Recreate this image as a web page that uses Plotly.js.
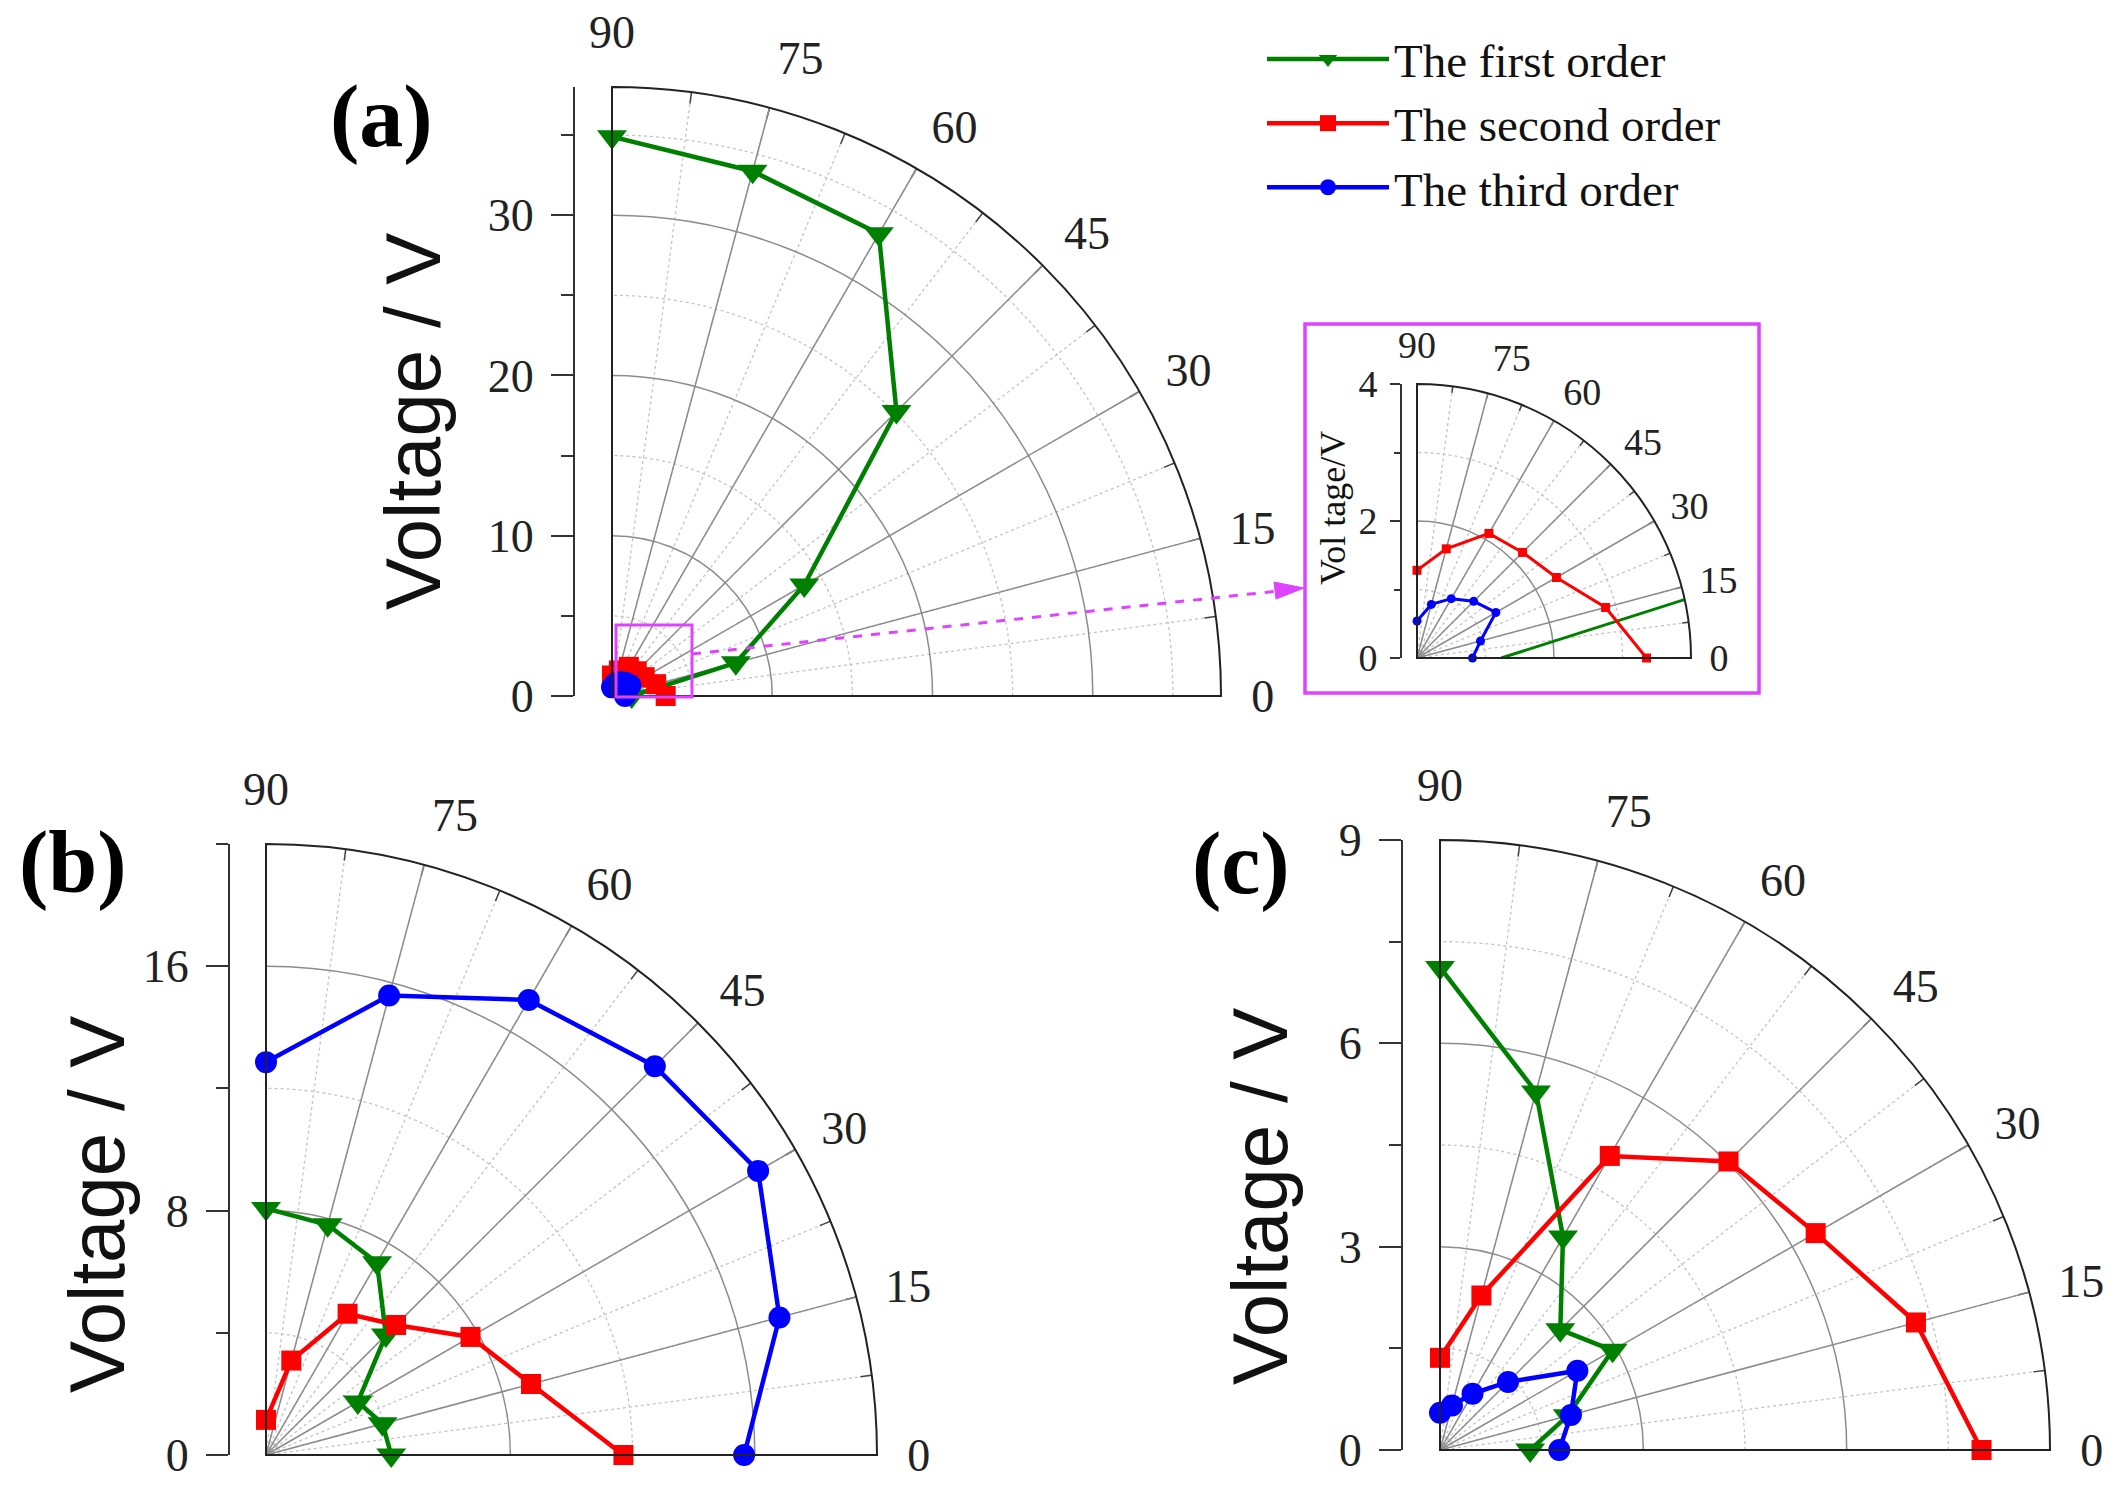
<!DOCTYPE html>
<html><head><meta charset="utf-8">
<script src="https://cdn.plot.ly/plotly-3.0.1.min.js"></script>
<style>html,body{margin:0;padding:0;background:#fff}#chart{width:2120px;height:1485px}</style>
</head><body><div id="chart"></div>
<script>
// ---------- data ----------
const angles = [90, 75, 60, 45, 30, 15, 0];
const seriesNames = ['The first order', 'The second order', 'The third order'];

// panel (a) (also shown in the inset)
const aFirst  = [34.9, 33.9, 33.3, 25.1, 13.85, 8.0, 1.23];
const aSecond = [1.28, 1.65, 2.10, 2.18, 2.35, 2.85, 3.35];
const aThird  = [0.54, 0.81, 1.00, 1.17, 1.33, 0.96, 0.81];
// panel (b)
const bFirst  = [8.07, 7.8, 7.27, 5.55, 3.47, 3.95, 4.1];
const bSecond = [1.15, 3.2, 5.34, 6.02, 7.73, 8.98, 11.7];
const bThird  = [12.86, 15.57, 17.2, 18.0, 18.6, 17.4, 15.65];
// panel (c)
const cFirst  = [7.12, 5.47, 3.63, 2.51, 2.94, 1.95, 1.33];
const cSecond = [1.36, 2.36, 5.01, 6.02, 6.4, 7.27, 7.99];
const cThird  = [0.55, 0.68, 0.96, 1.42, 2.34, 2.0, 1.76];

// tick values
const majorAngles = [0, 15, 30, 45, 60, 75, 90];
const allAngles = [0, 7.5, 15, 22.5, 30, 37.5, 45, 52.5, 60, 67.5, 75, 82.5, 90];
const aMajorR = [0, 10, 20, 30], aMinorR = [5, 15, 25, 35], aMax = 38;
const bMajorR = [0, 8, 16],      bMinorR = [4, 12, 20],      bMax = 20;
const cMajorR = [0, 3, 6, 9],    cMinorR = [1.5, 4.5, 7.5],  cMax = 9;
const iMajorR = [0, 2, 4],       iMinorR = [1, 3],           iMax = 4;

// ---------- layout helpers ----------
const W = 2120, H = 1485;
const px = x => x / W;
const py = y => 1 - y / H;
const COLORS = ['#008000', '#ff0000', '#0000ff'];
const SYMBOLS = ['triangle-down', 'square', 'circle'];
const SERIF = 'Liberation Serif, Times New Roman, serif';
const SANS = 'Liberation Sans, Arial, sans-serif';

const panels = [
  {key: 'a', pole: [612, 696], R: 609, axisX: 575, rmax: aMax, major: aMajorR, minor: aMinorR,
   data: [aFirst, aSecond, aThird], inset: false, msize: [26, 20, 22], lw: 4.5, font: 46, lpad: 20},
  {key: 'b', pole: [266, 1455], R: 611, axisX: 230, rmax: bMax, major: bMajorR, minor: bMinorR,
   data: [bFirst, bSecond, bThird], inset: false, msize: [26, 20, 22], lw: 4.5, font: 46, lpad: 20},
  {key: 'c', pole: [1440, 1450], R: 610, axisX: 1403, rmax: cMax, major: cMajorR, minor: cMinorR,
   data: [cFirst, cSecond, cThird], inset: false, msize: [26, 20, 22], lw: 4.5, font: 46, lpad: 20},
  {key: 'i', pole: [1417, 658], R: 274, axisX: 1402, rmax: iMax, major: iMajorR, minor: iMinorR,
   data: [aFirst, aSecond, aThird], inset: true, msize: [0, 9, 9], lw: 3, font: 38, lpad: 10}
];

const layout = {
  width: W, height: H,
  margin: {l: 0, r: 0, t: 0, b: 0},
  paper_bgcolor: '#ffffff',
  plot_bgcolor: 'rgba(0,0,0,0)',
  showlegend: true,
  legend: {
    x: px(1262), y: py(22), xanchor: 'left', yanchor: 'top',
    font: {family: SERIF, size: 47, color: '#111'},
    itemwidth: 122, bgcolor: 'rgba(0,0,0,0)', tracegroupgap: 0
  },
  annotations: [],
  shapes: []
};
const traces = [];

panels.forEach((p, k) => {
  const dom = {
    x: [px(p.pole[0]), px(p.pole[0] + p.R)],
    y: [py(p.pole[1]), py(p.pole[1] - p.R)]
  };
  const lo = 'polar' + (k === 0 ? '' : (2 * k + 1));
  const hi = 'polar' + (2 * k + 2);
  // lower layer: dotted minor grid + inner ticks
  layout[lo] = {
    domain: dom, sector: [0, 90], bgcolor: 'rgba(0,0,0,0)',
    radialaxis: {range: [0, p.rmax], tickmode: 'array', tickvals: p.minor, showticklabels: false,
      ticks: '', showline: false, gridcolor: '#c4c4c4', gridwidth: 1.3, griddash: 'dot'},
    angularaxis: {rotation: 0, direction: 'counterclockwise', thetaunit: 'degrees',
      tickmode: 'array', tickvals: allAngles, showticklabels: false,
      ticks: 'inside', ticklen: p.inset ? 6 : 11, tickcolor: '#444', tickwidth: 1.5,
      showline: false, gridcolor: '#c4c4c4', gridwidth: 1.3, griddash: 'dot'}
  };
  traces.push({type: 'scatterpolar', subplot: lo, r: [], theta: [], showlegend: false, hoverinfo: 'skip'});
  // upper layer: solid major grid, outer arc and labels
  layout[hi] = {
    domain: dom, sector: [0, 90], bgcolor: 'rgba(0,0,0,0)',
    radialaxis: {range: [0, p.rmax], tickmode: 'array', tickvals: p.major, showticklabels: false,
      ticks: '', showline: false, gridcolor: '#8c8c8c', gridwidth: 1.5},
    angularaxis: {rotation: 0, direction: 'counterclockwise', thetaunit: 'degrees',
      tickmode: 'array', tickvals: majorAngles, ticktext: majorAngles.map(String),
      ticks: 'outside', ticklen: p.lpad, tickcolor: 'rgba(0,0,0,0)', tickwidth: 1,
      showline: true, linecolor: '#222', linewidth: 2,
      gridcolor: '#8c8c8c', gridwidth: 1.5,
      tickfont: {family: SERIF, size: p.font, color: '#222'}}
  };

  // series
  p.data.forEach((vals, s) => {
    traces.push({
      type: 'scatterpolar', subplot: hi,
      r: vals, theta: angles,
      name: seriesNames[s],
      legendgroup: seriesNames[s],
      showlegend: k === 0,
      mode: p.msize[s] > 0 ? 'lines+markers' : 'lines',
      line: {color: COLORS[s], width: p.lw},
      marker: {symbol: SYMBOLS[s], size: p.msize[s] || 1, color: COLORS[s]},
      hoverinfo: 'skip'
    });
  });

  // cartesian radial axis drawn to the left of the pole
  const ax = k === 0 ? '' : String(k + 1);
  layout['xaxis' + ax] = {domain: [px(p.axisX), px(p.axisX) + 0.004], visible: false, range: [0, 1], fixedrange: true};
  layout['yaxis' + ax] = {
    domain: dom.y, anchor: 'x' + ax, side: 'left', range: [0, p.rmax],
    tickmode: 'array', tickvals: p.major,
    ticks: 'outside', ticklen: p.inset ? 10 : 22, tickwidth: 2, tickcolor: '#333',
    minor: {tickmode: 'array', tickvals: p.minor, ticks: 'outside', ticklen: p.inset ? 6 : 12, tickwidth: 2, tickcolor: '#333', showgrid: false},
    showline: true, linecolor: '#333', linewidth: 2,
    showgrid: false, zeroline: false, fixedrange: true,
    ticklabelstandoff: p.inset ? 5 : 8,
    tickfont: {family: SERIF, size: p.font, color: '#222'}
  };
  traces.push({type: 'scatter', x: [], y: [], xaxis: 'x' + ax, yaxis: 'y' + ax, showlegend: false, hoverinfo: 'skip'});
});

// axis titles and panel labels
const titles = [
  {text: 'Voltage / V', x: 413, y: 422, size: 78, family: SANS},
  {text: 'Voltage / V', x: 97, y: 1205, size: 78, family: SANS},
  {text: 'Voltage / V', x: 1260, y: 1197, size: 78, family: SANS},
  {text: 'Vol tage/V', x: 1333, y: 508, size: 36, family: SERIF}
];
titles.forEach(t => layout.annotations.push({
  text: t.text, x: px(t.x), y: py(t.y), xref: 'paper', yref: 'paper',
  xanchor: 'center', yanchor: 'middle', textangle: -90, showarrow: false,
  font: {family: t.family, size: t.size, color: '#111'}
}));
const labels = [
  {text: '(a)', x: 381, y: 116},
  {text: '(b)', x: 73, y: 862},
  {text: '(c)', x: 1241, y: 863}
];
labels.forEach(l => layout.annotations.push({
  text: l.text, x: px(l.x), y: py(l.y), xref: 'paper', yref: 'paper',
  xanchor: 'center', yanchor: 'middle', showarrow: false,
  font: {family: SERIF, size: 88, color: '#000', weight: 'bold'}
}));

// zoom box, inset frame and dashed arrow
const MAG = '#dd44ff';
layout.shapes.push(
  {type: 'rect', xref: 'paper', yref: 'paper', x0: px(616), x1: px(692), y0: py(697), y1: py(625),
   line: {color: MAG, width: 3}},
  {type: 'rect', xref: 'paper', yref: 'paper', x0: px(1305), x1: px(1759), y0: py(693), y1: py(324),
   line: {color: MAG, width: 3.5}},
  {type: 'line', xref: 'paper', yref: 'paper', x0: px(692), y0: py(654), x1: px(1278), y1: py(591),
   line: {color: MAG, width: 3, dash: 'dash'}},
  {type: 'path', xref: 'paper', yref: 'paper',
   path: `M${px(1304)},${py(588)} L${px(1274)},${py(582)} L${px(1276)},${py(599)} Z`,
   fillcolor: MAG, line: {color: MAG, width: 1}}
);

Plotly.newPlot('chart', traces, layout, {displayModeBar: false, staticPlot: true});
</script></body></html>
